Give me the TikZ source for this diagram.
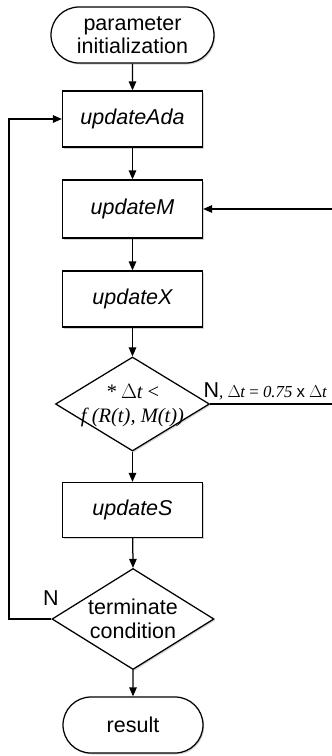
\documentclass[tikz,border=0pt]{standalone}
\usepackage{fontspec}
\setmainfont{Liberation Serif}
\setsansfont{Liberation Sans}
\usetikzlibrary{shapes.geometric,shapes.misc,arrows.meta,shadows}
\begin{document}
\begin{tikzpicture}[x=1pt,y=-1pt,
  every node/.style={inner sep=0pt},
  shd/.style={drop shadow={shadow xshift=1.2pt,shadow yshift=-1.5pt,opacity=0.35,fill=gray}},
  proc/.style={draw,line width=1.25pt,fill=white,shd,rectangle,minimum width=140pt,minimum height=56pt,
    font=\sffamily\itshape\fontsize{21.5}{24}\selectfont},
  term/.style={draw,line width=1.25pt,fill=white,shd,rounded rectangle,minimum height=56pt,
    font=\sffamily\fontsize{21.5}{23.5}\selectfont,align=center},
  dec/.style={draw,line width=1.25pt,fill=white,shd,diamond},
  conn/.style={line width=1.25pt},
  arr/.style={conn,-{Triangle[length=9pt,width=7.5pt]}},
  txt/.style={font=\sffamily\fontsize{21.5}{23.5}\selectfont,align=center}
]
\useasboundingbox (0,0) rectangle (332,756);
\node[term,minimum width=163pt] (start) at (132.5,35) {parameter\\initialization};
\node[proc] (ada) at (132.5,119) {updateAda};
\node[proc,minimum height=58pt] (upm) at (132.5,209) {updateM};
\node[proc] (upx) at (132.5,299) {updateX};
\node[dec,minimum width=154pt,minimum height=94pt] (d1) at (132.5,404) {};
\node[font=\itshape\fontsize{20.5}{24}\selectfont,align=center] (d1t) at (132.5,406) {* $\Delta$\kern-0.5pt t {\upshape\textless}\\ f (R(t), M(t))};
\node[proc,minimum height=55pt] (ups) at (132.5,510) {updateS};
\node[dec,minimum width=162pt,minimum height=101pt] (d2) at (133,619) {};
\node[txt] (d2t) at (133,619) {terminate\\condition};
\node[term,minimum width=140pt] (res) at (133,725) {result};
\coordinate (ll1) at (9,619);
\coordinate (ll2) at (9,119);
\coordinate (rr1) at (345,404);
\coordinate (rr2) at (345,209);
\draw[arr] (start) -- (ada);
\draw[arr] (ada) -- (upm);
\draw[arr] (upm) -- (upx);
\draw[arr] (upx) -- (d1.north);
\draw[arr] (d1.south) -- (ups);
\draw[arr] (ups) -- (d2.north);
\draw[arr] (d2.south) -- (res);
\draw[arr] (d2.west) -- (ll1) -- (ll2) -- (ada.west);
\draw[arr] (d1.east) -- (rr1) -- (rr2) -- (upm.east);
\node[txt,anchor=south] (n2) at (51,606) {N};
\node[anchor=base west] (n1) at (203.5,397) {{\sffamily\fontsize{21.5}{24}\selectfont N}{\itshape\fontsize{16.8}{18}\selectfont, $\Delta$\kern-0.5pt t {\upshape=} 0.75 {\sffamily\upshape x} $\Delta$\kern-0.5pt t}};
\end{tikzpicture}
\end{document}
